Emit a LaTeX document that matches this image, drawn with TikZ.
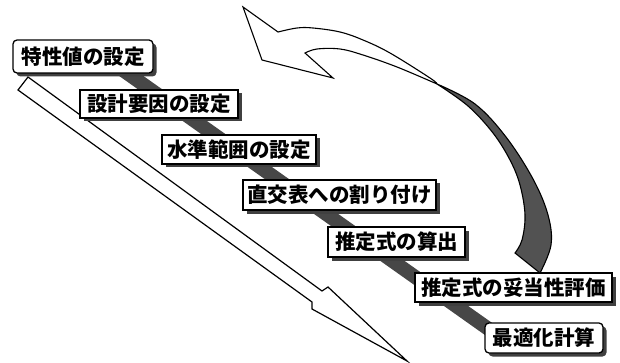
\documentclass[tikz,border=0pt]{standalone}
\usepackage{fontspec}
\newfontfamily\jp{Noto Sans CJK JP}
\usetikzlibrary{shadows}
\begin{document}
\begin{tikzpicture}[x=1pt,y=-1pt,
  stepbox/.style={draw=black, line width=1.3pt, fill=white, inner sep=0pt, outer sep=0pt,
    font=\jp\bfseries\fontsize{20.5}{21}\selectfont,
    drop shadow={shadow xshift=3.5pt, shadow yshift=-3.5pt, fill=black!75, opacity=1}},
  roundbox/.style={stepbox, rounded corners=4pt},
  band/.style={line width=14pt, draw=black!72},
  hollow/.style={draw=black, line width=1.2pt, fill=white, line join=miter},
  twist/.style={draw=black, line width=1.1pt, fill=black!68}]
\useasboundingbox (0,0) rectangle (620,363);
\fill[white] (0,0) rectangle (620,363);
% hollow straight arrow
\draw[hollow] (28,77) -- (322,291) -- (328,287) -- (407,361) -- (312,309) -- (312,302) -- (18,90) -- cycle;
% dark band behind the steps
\coordinate (bs) at (120,68);
\coordinate (be) at (490,330);
\draw[band] (bs) -- (be);
% curved return arrow: dark tail
\draw[twist] plot[smooth, tension=0.6] coordinates {(437,84) (475,104) (506,137) (533,179) (548,215) (551,245) (540,273)}
  -- (515,253)
  -- plot[smooth, tension=0.6] coordinates {(515,253) (522,240) (525,215) (520,185) (510,160) (493,133) (468,106) (437,84)} -- cycle;
% curved return arrow: white head
\draw[hollow, line width=1.1pt] (243,7) -- (262,60) -- (333,78) -- (305,53)
  -- plot[smooth, tension=0.6] coordinates {(305,53) (317,49) (340,49) (363,55) (397,67) (437,84)}
  -- plot[smooth, tension=0.6] coordinates {(437,84) (430,78) (390,53) (363,40) (340,32) (313,28) (297,28) (278,32)}
  -- cycle;
% steps
\node[roundbox, minimum width=140pt, minimum height=33pt] (b1) at (83,56.5) {特性値の設定};
\node[stepbox, minimum width=158pt, minimum height=28pt] (b2) at (159,104) {設計要因の設定};
\node[stepbox, minimum width=154pt, minimum height=29pt] (b3) at (239,149.5) {水準範囲の設定};
\node[stepbox, minimum width=193pt, minimum height=30pt] (b4) at (339.5,195) {直交表への割り付け};
\node[stepbox, minimum width=137pt, minimum height=30pt] (b5) at (396.5,242) {推定式の算出};
\node[stepbox, minimum width=197pt, minimum height=29pt] (b6) at (513.5,287.5) {推定式の妥当性評価};
\node[roundbox, minimum width=118pt, minimum height=30pt] (b7) at (544,338) {最適化計算};
\end{tikzpicture}
\end{document}
